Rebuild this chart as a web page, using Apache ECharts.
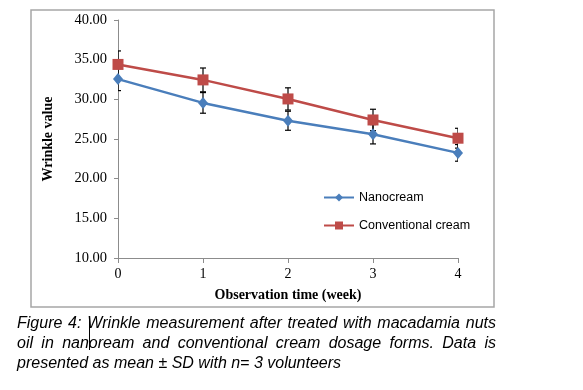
<!DOCTYPE html>
<html>
<head>
<meta charset="utf-8">
<script src="https://cdn.jsdelivr.net/npm/echarts@6/dist/echarts.min.js"></script>
<style>
html,body{margin:0;padding:0;background:#fff;}
#chart{width:583px;height:390px;}
</style>
</head>
<body>
<div id="chart"></div>
<script>
var weeks = [0, 1, 2, 3, 4];
var nanoMean = [32.55, 29.55, 27.3, 25.6, 23.25];
var nanoSD = [1.45, 1.3, 1.2, 1.22, 1.05];
var convMean = [34.4, 32.45, 30.05, 27.4, 25.1];
var convSD = [1.7, 1.5, 1.4, 1.35, 1.25];
var yTicks = [10, 15, 20, 25, 30, 35, 40];
var seriesNames = ['Nanocream', 'Conventional cream'];
var captionLines = [
  'Figure 4: Wrinkle measurement after treated with macadamia nuts',
  'oil in nanoream and conventional cream dosage forms. Data is',
  'presented as mean \u00b1 SD with n= 3 volunteers'
];

var chart = echarts.init(document.getElementById('chart'), null, {renderer: 'canvas'});

function pts(means) { return weeks.map(function (w, i) { return [w, means[i]]; }); }
function errData(means, sds) {
  return weeks.map(function (w, i) { return [w, means[i] - sds[i], means[i] + sds[i]]; });
}
function errRender(params, api) {
  var x = api.value(0);
  var lo = api.coord([x, api.value(1)]);
  var hi = api.coord([x, api.value(2)]);
  var c = 3;
  var st = {stroke: '#000', lineWidth: 1.2};
  return {
    type: 'group',
    children: [
      {type: 'line', shape: {x1: lo[0], y1: lo[1], x2: hi[0], y2: hi[1]}, style: st},
      {type: 'line', shape: {x1: lo[0] - c, y1: lo[1], x2: lo[0] + c, y2: lo[1]}, style: st},
      {type: 'line', shape: {x1: hi[0] - c, y1: hi[1], x2: hi[0] + c, y2: hi[1]}, style: st}
    ]
  };
}

// justified caption words
var capFont = 'italic 16px "Liberation Sans"';
var cv = document.createElement('canvas').getContext('2d');
cv.font = capFont;
var capLeft = 17, capRight = 496, capY = [325, 345, 365];
var graphics = [{
  type: 'rect', shape: {x: 31, y: 10, width: 463, height: 297},
  style: {fill: 'none', stroke: '#a6a6a6', lineWidth: 1.5}, silent: true
}];
captionLines.forEach(function (line, li) {
  var words = line.split(' ');
  var widths = words.map(function (w) { return cv.measureText(w).width; });
  var total = widths.reduce(function (a, b) { return a + b; }, 0);
  var justify = li < captionLines.length - 1;
  var gap = justify ? (capRight - capLeft - total) / (words.length - 1) : cv.measureText(' ').width;
  var x = capLeft;
  words.forEach(function (w, wi) {
    graphics.push({
      type: 'text', left: x, top: capY[li] - 9,
      style: {text: w, font: capFont, fill: '#000'}, silent: true
    });
    if (w === 'nanoream') {
      var cx = Math.round(x + cv.measureText('nan').width) + 0.5;
      graphics.push({type: 'line', shape: {x1: cx, y1: 318, x2: cx, y2: 350},
        style: {stroke: '#000', lineWidth: 1}, silent: true});
    }
    x += widths[wi] + gap;
  });
});

var serifFont = '"Liberation Serif", "Times New Roman", serif';
var option = {
  animation: false,
  backgroundColor: '#fff',
  grid: {left: 118, right: 125, top: 20, bottom: 132, containLabel: false},
  legend: {
    orient: 'vertical', left: 318, top: 186, itemWidth: 30, itemHeight: 10, itemGap: 15,
    data: seriesNames,
    textStyle: {fontFamily: '"Liberation Sans", Arial, sans-serif', fontSize: 12.5, color: '#000'}
  },
  xAxis: {
    type: 'value', min: 0, max: 4, interval: 1,
    name: 'Observation time (week)', nameLocation: 'middle', nameGap: 30,
    nameTextStyle: {fontFamily: serifFont, fontWeight: 'bold', fontSize: 14, color: '#000'},
    axisLine: {lineStyle: {color: '#8c8c8c', width: 1}},
    axisTick: {show: true, length: 5, lineStyle: {color: '#8c8c8c'}},
    axisLabel: {fontFamily: serifFont, fontSize: 14, color: '#000', margin: 9},
    splitLine: {show: false}
  },
  yAxis: {
    type: 'value', min: yTicks[0], max: yTicks[yTicks.length - 1], interval: 5,
    name: 'Wrinkle value', nameLocation: 'middle', nameGap: 63, nameRotate: 90,
    nameTextStyle: {fontFamily: serifFont, fontWeight: 'bold', fontSize: 14, color: '#000'},
    axisLine: {show: true, lineStyle: {color: '#8c8c8c', width: 1}},
    axisTick: {show: true, length: 4, lineStyle: {color: '#8c8c8c'}},
    axisLabel: {fontFamily: serifFont, fontSize: 14.5, color: '#000', margin: 11,
      formatter: function (v) { return v.toFixed(2); }},
    splitLine: {show: false}
  },
  series: [
    {type: 'custom', name: 'errNano', renderItem: errRender, data: errData(nanoMean, nanoSD), z: 1, silent: true, clip: true},
    {type: 'custom', name: 'errConv', renderItem: errRender, data: errData(convMean, convSD), z: 1, silent: true, clip: true},
    {
      type: 'line', name: seriesNames[0], data: pts(nanoMean), z: 3,
      symbol: 'diamond', symbolSize: [10, 12], showAllSymbol: true,
      lineStyle: {color: '#4a7ebb', width: 2.5}, itemStyle: {color: '#4a7ebb'}
    },
    {
      type: 'line', name: seriesNames[1], data: pts(convMean), z: 4,
      symbol: 'rect', symbolSize: 11, showAllSymbol: true,
      lineStyle: {color: '#be4b48', width: 2.5}, itemStyle: {color: '#be4b48'}
    }
  ],
  graphic: graphics
};
chart.setOption(option);
</script>
</body>
</html>
